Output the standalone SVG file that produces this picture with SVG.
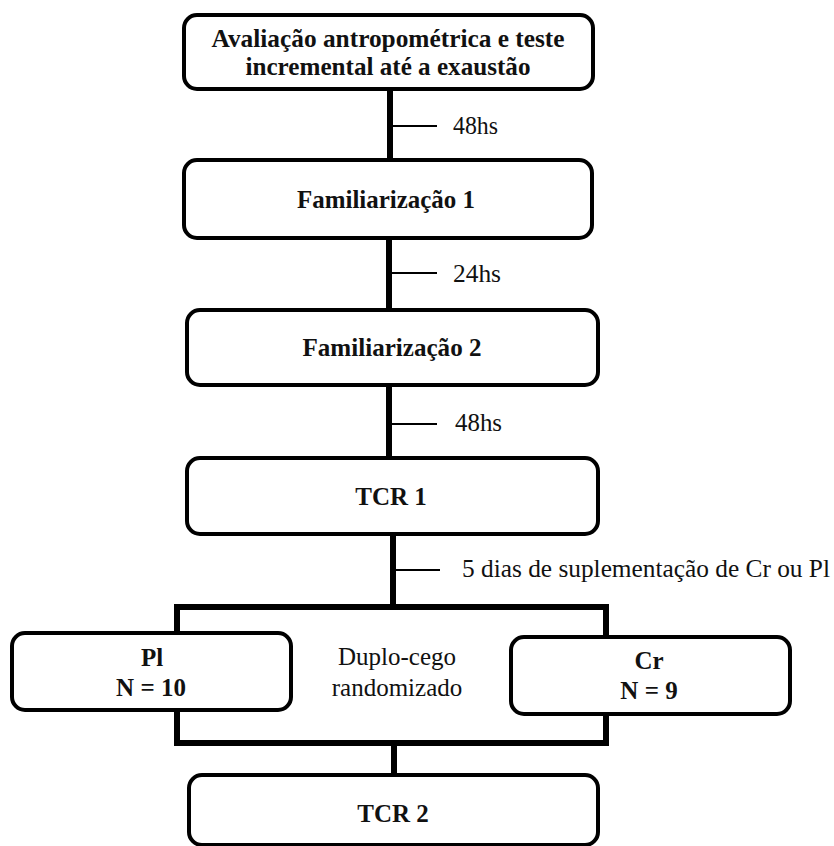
<svg xmlns="http://www.w3.org/2000/svg" width="834" height="846" viewBox="0 0 834 846">
<style>
.box{fill:#fff;stroke:#000;stroke-width:4}
.conn{fill:none;stroke:#000;stroke-width:6}
.tick{fill:none;stroke:#000;stroke-width:2}
.b{font-family:'Liberation Serif','DejaVu Serif',serif;font-weight:bold;font-size:25px;fill:#111;text-anchor:middle}
.r{font-family:'Liberation Serif','DejaVu Serif',serif;font-size:25px;fill:#111}
.rc{text-anchor:middle}
</style>
<rect width="834" height="846" fill="#fff"/>
<g id="connectors">
<line class="conn" x1="390" y1="89" x2="390" y2="160"/>
<line class="conn" x1="389" y1="238" x2="389" y2="310"/>
<line class="conn" x1="389" y1="385" x2="389" y2="458"/>
<line class="conn" x1="393" y1="534" x2="393" y2="607"/>
<rect class="conn" x="177" y="607" width="429" height="136"/>
<line class="conn" x1="394" y1="743" x2="394" y2="775"/>
<line class="tick" x1="390" y1="126" x2="437" y2="126"/>
<line class="tick" x1="389" y1="273" x2="437" y2="273"/>
<line class="tick" x1="389" y1="424" x2="437" y2="424"/>
<line class="tick" x1="393" y1="570" x2="440" y2="570"/>
<text class="r" x="453" y="134" textLength="45" lengthAdjust="spacingAndGlyphs">48hs</text>
<text class="r" x="453" y="282" textLength="48" lengthAdjust="spacingAndGlyphs">24hs</text>
<text class="r" x="455" y="431" textLength="47" lengthAdjust="spacingAndGlyphs">48hs</text>
<text class="r" x="462" y="577" textLength="368" lengthAdjust="spacingAndGlyphs">5 dias de suplementação de Cr ou Pl</text>
<text class="r rc" x="397" y="665">Duplo-cego</text>
<text class="r rc" x="397" y="696">randomizado</text>
</g>
<g id="n1">
<rect class="box" x="184" y="15" width="409" height="74" rx="13"/>
<text class="b" x="388" y="47" textLength="353" lengthAdjust="spacingAndGlyphs">Avaliação antropométrica e teste</text>
<text class="b" x="388" y="75" textLength="285" lengthAdjust="spacingAndGlyphs">incremental até a exaustão</text>
</g>
<g id="n2">
<rect class="box" x="184" y="160" width="408" height="78" rx="13"/>
<text class="b" x="386" y="208" textLength="178" lengthAdjust="spacingAndGlyphs">Familiarização 1</text>
</g>
<g id="n3">
<rect class="box" x="187" y="310" width="411" height="75" rx="13"/>
<text class="b" x="392" y="356" textLength="179" lengthAdjust="spacingAndGlyphs">Familiarização 2</text>
</g>
<g id="n4">
<rect class="box" x="187" y="458" width="411" height="76" rx="13"/>
<text class="b" x="391" y="505">TCR 1</text>
</g>
<g id="pl">
<rect class="box" x="12" y="633" width="279" height="77" rx="13"/>
<text class="b" x="152" y="666">Pl</text>
<text class="b" x="151" y="696">N = 10</text>
</g>
<g id="cr">
<rect class="box" x="511" y="637" width="279" height="77" rx="13"/>
<text class="b" x="649" y="669">Cr</text>
<text class="b" x="649" y="699">N = 9</text>
</g>
<g id="n5">
<rect class="box" x="189" y="775" width="409" height="70" rx="13"/>
<text class="b" x="393" y="822">TCR 2</text>
</g>
</svg>
